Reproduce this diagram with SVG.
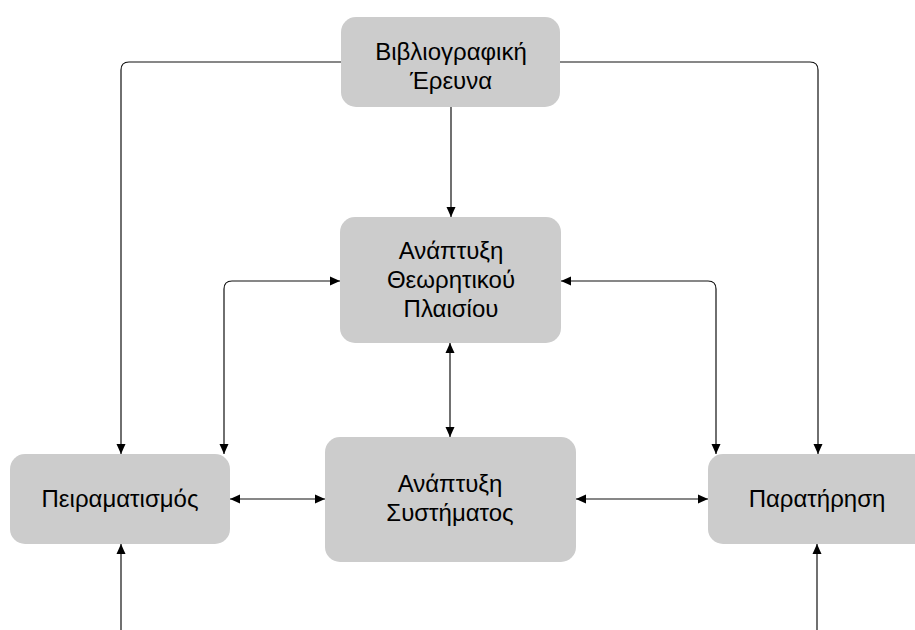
<svg xmlns="http://www.w3.org/2000/svg" width="915" height="630" viewBox="0 0 915 630">
<style>
.box{fill:#cccccc;stroke:none}
.lbl{font-family:"Liberation Sans",Arial,sans-serif;font-size:24px;fill:#000;text-anchor:middle}
.c{fill:none;stroke:#111;stroke-width:1.2}
</style>
<defs>
<marker id="ah" markerUnits="userSpaceOnUse" markerWidth="11" markerHeight="10" refX="10" refY="4.5" orient="auto-start-reverse" viewBox="0 0 11 9">
<path d="M0,0 L10,4.5 L0,9 z" fill="#000"/>
</marker>
</defs>
<rect width="915" height="630" fill="#fff"/>
<g id="connectors">
<path class="c" d="M451,107 V217" marker-end="url(#ah)"/>
<path class="c" d="M341,62 H129 Q121,62 121,70 V454" marker-end="url(#ah)"/>
<path class="c" d="M560,62 H810 Q818,62 818,70 V454" marker-end="url(#ah)"/>
<path class="c" d="M224,454 V289 Q224,281 232,281 H340" marker-start="url(#ah)" marker-end="url(#ah)"/>
<path class="c" d="M561,281 H708 Q716,281 716,289 V454" marker-start="url(#ah)" marker-end="url(#ah)"/>
<path class="c" d="M450,343 V437" marker-start="url(#ah)" marker-end="url(#ah)"/>
<path class="c" d="M230,499 H325" marker-start="url(#ah)" marker-end="url(#ah)"/>
<path class="c" d="M576,499 H708" marker-start="url(#ah)" marker-end="url(#ah)"/>
<path class="c" d="M121,630 V544" marker-end="url(#ah)"/>
<path class="c" d="M817,630 V544" marker-end="url(#ah)"/>
</g>
<g id="n1">
<rect class="box" x="341" y="17" width="219" height="90" rx="15"/>
<text class="lbl" x="451" y="60">Βιβλιογραφική</text>
<text class="lbl" x="451" y="89">Έρευνα</text>
</g>
<g id="n2">
<rect class="box" x="340" y="217" width="221" height="126" rx="15"/>
<text class="lbl" x="451" y="259">Ανάπτυξη</text>
<text class="lbl" x="451" y="288">Θεωρητικού</text>
<text class="lbl" x="451" y="317">Πλαισίου</text>
</g>
<g id="n3">
<rect class="box" x="10" y="454" width="220" height="90" rx="15"/>
<text class="lbl" x="120" y="507">Πειραματισμός</text>
</g>
<g id="n4">
<rect class="box" x="325" y="437" width="251" height="125" rx="15"/>
<text class="lbl" x="450" y="492">Ανάπτυξη</text>
<text class="lbl" x="450" y="521">Συστήματος</text>
</g>
<g id="n5">
<rect class="box" x="708" y="454" width="220" height="90" rx="15"/>
<text class="lbl" x="817" y="507">Παρατήρηση</text>
</g>
</svg>
